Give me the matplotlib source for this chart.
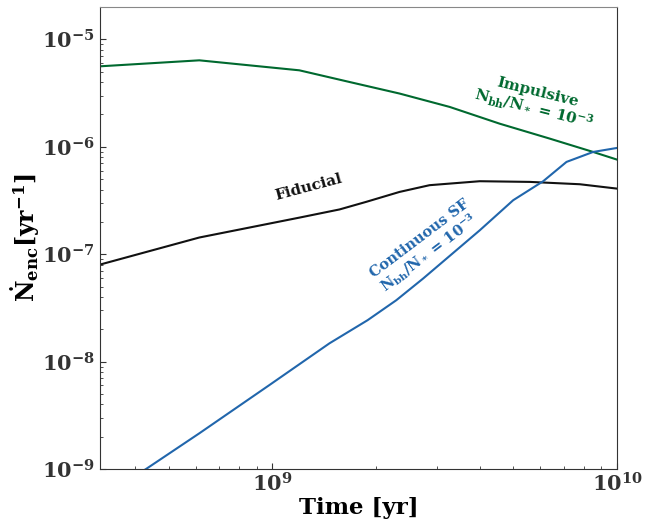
import matplotlib
matplotlib.use("Agg")
import matplotlib.pyplot as plt

# encounter rate vs time for the three models
t_fid = [3.16e8, 6.14e8, 1.198e9, 1.567e9, 1.872e9, 2.34e9, 2.86e9, 4.0e9, 5.59e9, 7.8e9, 1.0e10]
n_fid = [8.0e-8, 1.43e-7, 2.19e-7, 2.61e-7, 3.07e-7, 3.80e-7, 4.39e-7, 4.78e-7, 4.71e-7, 4.48e-7, 4.08e-7]

t_imp = [3.16e8, 6.14e8, 9.17e8, 1.198e9, 1.675e9, 2.34e9, 3.27e9, 4.57e9, 6.39e9, 8.53e9, 1.0e10]
n_imp = [5.61e-6, 6.38e-6, 5.61e-6, 5.15e-6, 4.01e-6, 3.13e-6, 2.35e-6, 1.64e-6, 1.19e-6, 8.95e-7, 7.6e-7]

t_cont = [3.16e8, 4.30e8, 6.14e8, 9.8e8, 1.465e9, 1.89e9, 2.29e9, 2.74e9, 4.0e9, 5.0e9,
          6.11e9, 7.14e9, 8.53e9, 1.0e10]
n_cont = [5.5e-10, 1.0e-9, 2.15e-9, 6.04e-9, 1.48e-8, 2.43e-8, 3.73e-8, 5.94e-8, 1.67e-7, 3.18e-7,
          4.78e-7, 7.23e-7, 8.95e-7, 9.75e-7]

c_fid = '#111111'
c_imp = '#00692f'
c_cont = '#2166ac'

plt.rcParams['font.family'] = 'DejaVu Serif'
plt.rcParams['font.weight'] = 'bold'
plt.rcParams['mathtext.fontset'] = 'dejavuserif'
plt.rcParams['mathtext.default'] = 'bf'

fig = plt.figure(figsize=(6.64, 5.2), dpi=100)
ax = fig.add_axes([0.1506, 0.098, 0.7785, 0.8885])

ax.plot(t_imp, n_imp, color=c_imp, lw=1.5)
ax.plot(t_fid, n_fid, color=c_fid, lw=1.5)
ax.plot(t_cont, n_cont, color=c_cont, lw=1.5)

ax.set_xscale('log')
ax.set_yscale('log')
ax.set_xlim(10**8.5, 1e10)
ax.set_ylim(1e-9, 2e-5)

ax.set_xlabel('Time [yr]', fontsize=16.5, fontweight='bold', labelpad=1)
ax.set_ylabel(r'$\dot{\mathbf{N}}_{\mathbf{enc}}\mathbf{[yr^{-1}]}$', fontsize=17, labelpad=0)

ax.tick_params(which='both', direction='in', colors='#333333', labelsize=15,
               top=False, right=False)
ax.tick_params(which='major', length=4.3)
ax.tick_params(which='minor', length=2.2)
ax.tick_params(axis='x', pad=2.5)
ax.tick_params(axis='y', pad=4)
for s in ['left', 'bottom', 'right']:
    ax.spines[s].set_color('#333333')
ax.spines['top'].set_color('#888888')

# curve labels
ax.text(0.842, 0.794, 'Impulsive\n' + r'N$_{bh}$/N$_*$ = 10$^{-3}$', transform=ax.transAxes,
        color=c_imp, fontsize=11, rotation=-14, ha='center', va='center', linespacing=1.0)
ax.text(0.404, 0.61, 'Fiducial', transform=ax.transAxes,
        color=c_fid, fontsize=11, rotation=15, ha='center', va='center')
ax.text(0.629, 0.481, 'Continuous SF\n' + r'N$_{bh}$/N$_*$ = 10$^{-3}$', transform=ax.transAxes,
        color=c_cont, fontsize=10.5, rotation=37, ha='center', va='center', linespacing=1.0)

fig.savefig('out.png', dpi=100)
